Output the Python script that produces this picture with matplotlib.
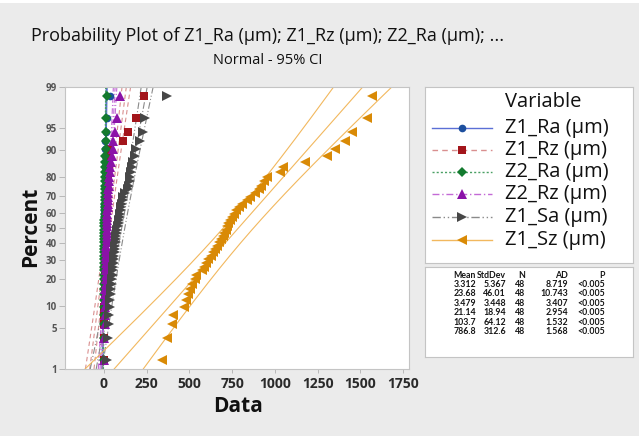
import matplotlib
matplotlib.use("Agg")
import matplotlib.pyplot as plt
from matplotlib.patches import Rectangle
from statistics import NormalDist
import numpy as np

plt.rcParams["font.family"] = ["Open Sans", "DejaVu Sans"]

# ---- data -------------------------------------------------------------
variables = ["Z1_Ra (µm)", "Z1_Rz (µm)", "Z2_Ra (µm)", "Z2_Rz (µm)",
             "Z1_Sa (µm)", "Z1_Sz (µm)"]

z1_ra = [0.4, 0.5, 0.6, 0.7, 0.8, 0.9, 1.0, 1.0, 1.1, 1.2, 1.3, 1.3,
         1.4, 1.5, 1.5, 1.6, 1.7, 1.8, 1.9, 2.0, 2.0, 2.1, 2.2, 2.3,
         2.4, 2.5, 2.6, 2.7, 2.8, 2.9, 3.0, 3.1, 3.2, 3.3, 3.5, 3.7,
         3.9, 4.1, 4.4, 4.7, 5.0, 5.5, 6.0, 7.0, 8.5, 11.0, 20.0, 36.0]
z1_rz = [1, 2, 2, 3, 3, 4, 4, 5, 5, 5, 6, 6, 6, 7, 7, 7, 8, 8, 8, 9,
         9, 9, 10, 10, 11, 11, 12, 12, 13, 13, 14, 15, 16, 17, 18, 19,
         20, 22, 24, 26, 28, 30, 32, 35, 109, 142, 185, 236]
z2_ra = [0.3, 0.5, 0.6, 0.8, 0.9, 1.0, 1.1, 1.2, 1.3, 1.4, 1.5, 1.6,
         1.7, 1.8, 1.9, 2.0, 2.1, 2.2, 2.3, 2.4, 2.5, 2.6, 2.7, 2.8,
         2.9, 3.0, 3.1, 3.2, 3.3, 3.4, 3.5, 3.6, 3.8, 4.0, 4.2, 4.5,
         4.8, 5.1, 5.5, 6.0, 6.6, 7.3, 8.0, 9.0, 10.0, 11.5, 13.0, 15.0]
z2_rz = [2, 3, 4, 5, 6, 7, 8, 8, 9, 10, 10, 11, 11, 12, 12, 13, 13, 14,
         14, 15, 15, 16, 16, 17, 17, 18, 18, 19, 19, 20, 21, 22, 23, 24,
         25, 26, 28, 30, 32, 34, 36, 40, 45, 51, 55, 62, 74, 94]
z1_sa = [20, 25, 30, 32, 35, 38, 40, 42, 45, 48, 50, 52, 54, 56, 58, 60,
         62, 64, 66, 68, 70, 72, 74, 76, 84, 87, 90, 93, 96, 99, 102, 105,
         109, 113, 125, 140, 145, 150, 155, 160, 165, 172, 180, 187, 211,
         230, 240, 367]
z1_sz = [338, 370, 396, 402, 468, 478, 490, 505, 518, 530, 540, 575,
         585, 598, 610, 625, 640, 650, 662, 672, 685, 695, 705, 712, 720,
         728, 738, 748, 760, 775, 790, 810, 835, 855, 885, 905, 918, 935,
         952, 1030, 1045, 1175, 1305, 1350, 1410, 1450, 1540, 1568]

means = [3.312, 23.68, 3.479, 21.14, 103.7, 786.8]
stdevs = [5.367, 46.01, 3.448, 18.94, 64.12, 312.6]
counts = [48, 48, 48, 48, 48, 48]
ad_stats = [8.719, 10.743, 3.407, 2.954, 1.532, 1.568]
p_values = ["<0.005", "<0.005", "<0.005", "<0.005", "<0.005", "<0.005"]

x_ticks = [0, 250, 500, 750, 1000, 1250, 1500, 1750]
pct_ticks = [1, 5, 10, 20, 30, 40, 50, 60, 70, 80, 90, 95, 99]

samples = [z1_ra, z1_rz, z2_ra, z2_rz, z1_sa, z1_sz]

# ---- styles -----------------------------------------------------------
mk_colors = ["#1d4f9e", "#a3151b", "#137a2e", "#8b12a8", "#474747", "#d98a06"]
ln_colors = ["#5b6fd6", "#d98f8f", "#4aa064", "#c36ad6", "#8a8a8a", "#f2b85e"]
ln_styles = ["-", (0, (4, 3)), (0, (1.5, 1.5)), (0, (5, 2, 1, 2)),
             (0, (6, 2, 1, 2, 1, 2)), "-"]
markers = ["o", "s", "D", "^", ">", "<"]
mk_sizes = [5.5, 6, 5.5, 6.5, 6.5, 6.5]

table_family = ["Lato", "DejaVu Sans"]
table_size = 6.3

W, H = 639, 436
fig = plt.figure(figsize=(W / 100, H / 100), dpi=100, facecolor="#ebebeb")


def fx(px):
    return px / W


def fy(py):
    return 1 - py / H


# thin white strip along the top edge of the graph window
fig.patches.append(Rectangle((0, fy(3)), 1, 1 - fy(3), transform=fig.transFigure,
                             facecolor="white", edgecolor="none", zorder=0))

nd = NormalDist()
zlo, zhi = nd.inv_cdf(0.01), nd.inv_cdf(0.99)

ax = fig.add_axes([fx(65), fy(369), fx(409) - fx(65), fy(87) - fy(369)])
ax.set_facecolor("white")
for s in ax.spines.values():
    s.set_color("#c4c4c4")
    s.set_linewidth(0.8)

# fitted normal lines with 95% confidence bands
zz = np.linspace(zlo, zhi, 200)
for k in range(len(variables)):
    m, sd, n = means[k], stdevs[k], counts[k]
    fit = m + sd * zz
    half = 1.96 * sd * np.sqrt((1 + zz ** 2 / 2) / n)
    for curve in (fit, fit - half, fit + half):
        ax.plot(curve, zz, color=ln_colors[k], linestyle=ln_styles[k],
                linewidth=0.8, zorder=2)

# sample points at median-rank plotting positions
for k, vals in enumerate(samples):
    vals = np.sort(np.asarray(vals, dtype=float))
    n = len(vals)
    zpos = [nd.inv_cdf((i - 0.3) / (n + 0.4)) for i in range(1, n + 1)]
    ax.plot(vals, zpos, linestyle="none", marker=markers[k],
            markersize=mk_sizes[k], color=mk_colors[k],
            markeredgewidth=0, zorder=3 + k)

ax.set_xlim(-228, 1785)
ax.set_ylim(zlo, zhi)
ax.set_xticks(x_ticks)
ax.set_xticklabels([str(t) for t in x_ticks], fontsize=10, color="#2a2a2a",
                   fontweight="bold")
ax.set_yticks([nd.inv_cdf(p / 100) for p in pct_ticks])
ax.set_yticklabels([str(p) for p in pct_ticks], fontsize=7, color="#555555",
                   fontweight="bold")
ax.tick_params(axis="y", length=4, width=0.6, color="#b0b0b0", pad=2)
ax.tick_params(axis="x", length=3, width=0.6, color="#b0b0b0", pad=3)

fig.text(fx(31), fy(227), "Percent", rotation=90, ha="center", va="center",
         fontsize=15, fontweight="bold", color="#111111")
fig.text(fx(238), fy(406), "Data", ha="center", va="center",
         fontsize=15, fontweight="bold", color="#111111")
fig.text(fx(268), fy(36), "Probability Plot of Z1_Ra (µm); Z1_Rz (µm); Z2_Ra (µm); ...",
         ha="center", va="center", fontsize=13, color="#111111")
fig.text(fx(268), fy(61), "Normal - 95% CI", ha="center", va="center",
         fontsize=10.5, color="#111111")

# ---- legend panel -----------------------------------------------------
lx0, ly0, lx1, ly1 = 425, 87, 633, 263
lg = fig.add_axes([fx(lx0), fy(ly1), fx(lx1) - fx(lx0), fy(ly0) - fy(ly1)])
lg.set_xlim(0, lx1 - lx0)
lg.set_ylim(ly1 - ly0, 0)
lg.set_xticks([])
lg.set_yticks([])
lg.set_facecolor("white")
for s in lg.spines.values():
    s.set_color("#c4c4c4")
    s.set_linewidth(0.8)
lg.text(80, 15, "Variable", fontsize=14.5, va="center", ha="left", color="#111111")
row_y = [41, 63, 85, 107, 130, 153]
for k, name in enumerate(variables):
    y = row_y[k]
    lg.plot([7, 67], [y, y], color=ln_colors[k], linestyle=ln_styles[k],
            linewidth=1.0)
    lg.plot([37], [y], marker=markers[k], markersize=mk_sizes[k],
            color=mk_colors[k], markeredgewidth=0)
    lg.text(80, y, name, fontsize=14.5, va="center", ha="left", color="#111111")

# ---- statistics panel -------------------------------------------------
sx0, sy0, sx1, sy1 = 425, 267, 633, 357
st = fig.add_axes([fx(sx0), fy(sy1), fx(sx1) - fx(sx0), fy(sy0) - fy(sy1)])
st.set_xlim(0, sx1 - sx0)
st.set_ylim(sy1 - sy0, 0)
st.set_xticks([])
st.set_yticks([])
st.set_facecolor("white")
for s in st.spines.values():
    s.set_color("#c4c4c4")
    s.set_linewidth(0.8)
col_x = [51, 81, 100, 143, 180]
headers = ["Mean", "StdDev", "N", "AD", "P"]
for cx, h in zip(col_x, headers):
    st.text(cx, 8, h, fontsize=table_size, ha="right", va="center",
            color="#151515", family=table_family, fontweight="bold")
for k in range(len(variables)):
    y = 17.5 + k * 9.4
    cells = [f"{means[k]:.4g}", f"{stdevs[k]:.4g}", str(counts[k]),
             f"{ad_stats[k]:.3f}", p_values[k]]
    for cx, c in zip(col_x, cells):
        st.text(cx, y, c, fontsize=table_size, ha="right", va="center",
                color="#151515", family=table_family, fontweight="bold")

fig.savefig("out.png", dpi=100, facecolor=fig.get_facecolor())
